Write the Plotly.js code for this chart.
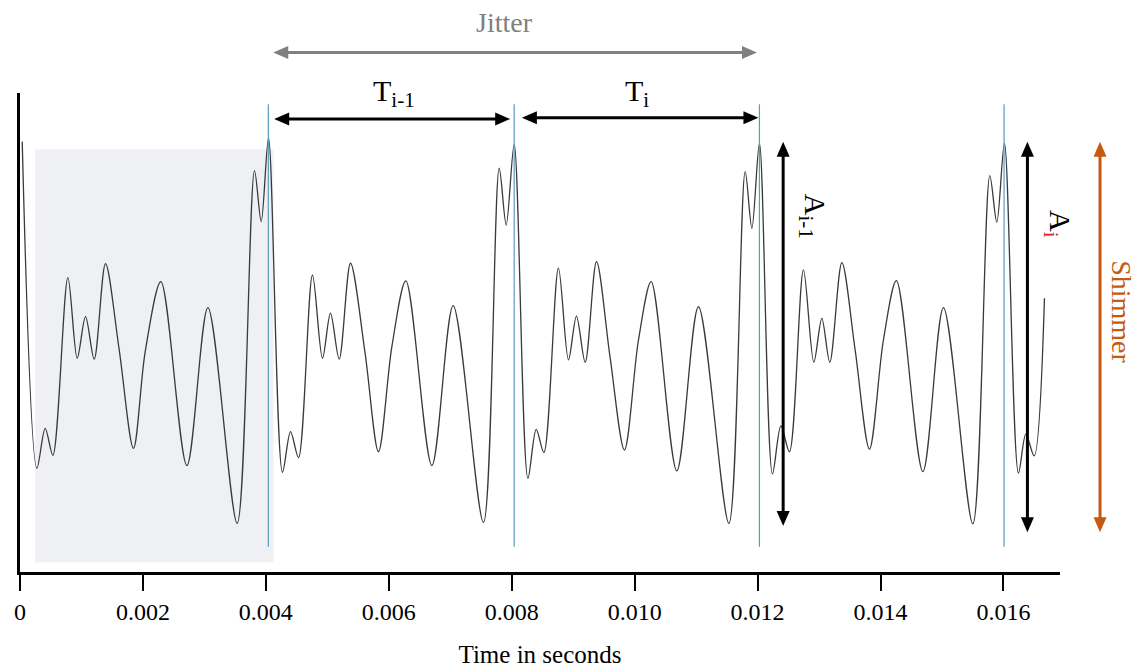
<!DOCTYPE html>
<html>
<head>
<meta charset="utf-8">
<script src="https://cdn.plot.ly/plotly-3.0.1.min.js"></script>
<style>
  html, body { margin: 0; padding: 0; background: #ffffff; }
  #chart { width: 1137px; height: 668px; }
</style>
</head>
<body>
<div id="chart"></div>
<script>
// ---- Data (time in seconds, relative amplitude) ----
const timeSec = [
  0.000036, 0.000275, 0.000410, 0.000535, 0.000779, 0.000931, 0.001066, 0.001207, 0.001391, 0.001614,
  0.001846, 0.002037, 0.002292, 0.002715, 0.003057, 0.003533, 0.003815, 0.003924, 0.004043,
  0.004270, 0.004401, 0.004531, 0.004758, 0.004921, 0.005051, 0.005193, 0.005377, 0.005616,
  0.005832, 0.006050, 0.006278, 0.006701, 0.007047, 0.007540, 0.007796, 0.007910, 0.008040,
  0.008263, 0.008398, 0.008523, 0.008760, 0.008923, 0.009053, 0.009195, 0.009379, 0.009601,
  0.009834, 0.010062, 0.010269, 0.010686, 0.011038, 0.011533, 0.011798, 0.011907, 0.012030,
  0.012242, 0.012379, 0.012518, 0.012746, 0.012915, 0.013045, 0.013175, 0.013371, 0.013587,
  0.013820, 0.014047, 0.014259, 0.014689, 0.015024, 0.015502, 0.015778, 0.015892, 0.016016,
  0.016244, 0.016364, 0.016499, 0.016667
];
const amplitude = [
  1.007, -0.712, -0.502, -0.644, 0.291, -0.133, 0.086, -0.138, 0.365, -0.089,
  -0.607, -0.098, 0.270, -0.698, 0.133, -1.002, 0.854, 0.586, 1.025,
  -0.733, -0.519, -0.656, 0.305, -0.133, 0.104, -0.138, 0.367, -0.110,
  -0.625, -0.072, 0.274, -0.698, 0.144, -0.998, 0.867, 0.568, 0.993,
  -0.765, -0.507, -0.630, 0.341, -0.142, 0.089, -0.154, 0.375, -0.130,
  -0.616, -0.037, 0.270, -0.726, 0.138, -1.002, 0.849, 0.551, 0.998,
  -0.742, -0.489, -0.625, 0.332, -0.154, 0.077, -0.154, 0.370, -0.089,
  -0.611, -0.037, 0.275, -0.730, 0.133, -1.005, 0.828, 0.583, 0.998,
  -0.738, -0.532, -0.647, 0.183
];
// Glottal period markers (blue vertical lines)
const periodMarks = [0.00404, 0.00804, 0.01203, 0.01601];
// Tick values and labels
const tickValues = [0, 0.002, 0.004, 0.006, 0.008, 0.010, 0.012, 0.014, 0.016];
const tickLabels = ['0', '0.002', '0.004', '0.006', '0.008', '0.010', '0.012', '0.014', '0.016'];

const SERIF = 'Liberation Serif';
const ORANGE = '#c55a11';

// layout geometry
const W = 1137, H = 668, M = { l: 20, r: 77, t: 93, b: 96 };
const XR = [0, 0.01692], YR = [-1.258, 1.263];
const pxX = (XR[1] - XR[0]) / (W - M.l - M.r);   // data units per pixel (x)
const pxY = (YR[1] - YR[0]) / (H - M.t - M.b);   // data units per pixel (y)
const pxPaperX = 1 / (W - M.l - M.r);
const pxPaperY = 1 / (H - M.t - M.b);

const trace = {
  x: timeSec,
  y: amplitude,
  type: 'scatter',
  mode: 'lines',
  line: { color: '#3a3a3a', width: 1.3, shape: 'spline', smoothing: 0.9 },
  hoverinfo: 'skip',
  showlegend: false
};

const shapes = [
  { type: 'rect', xref: 'x', yref: 'y', x0: 0.000247, x1: 0.004124, y0: -1.207, y1: 0.967,
    fillcolor: '#eef0f4', line: { width: 0 }, layer: 'below' }
].concat(periodMarks.map(t => ({
  type: 'line', xref: 'x', yref: 'y', x0: t, x1: t, y0: -1.125, y1: 1.204,
  line: { color: '#5a9bc0', width: 1.2 }, layer: 'above'
})));

const HL = 15, HW = 6.5, BACK = 11;
function head(xref, yref, xa, ya, dir, color) {
  const paths = {
    right: `M0,0 L-${HL},${HW} L-${HL},-${HW} Z`,
    left: `M0,0 L${HL},${HW} L${HL},-${HW} Z`,
    up: `M0,0 L-${HW},-${HL} L${HW},-${HL} Z`,
    down: `M0,0 L-${HW},${HL} L${HW},${HL} Z`
  };
  return { type: 'path', xref: xref, yref: yref, xsizemode: 'pixel', ysizemode: 'pixel',
    xanchor: xa, yanchor: ya, path: paths[dir], fillcolor: color, line: { width: 0 }, layer: 'above' };
}
function hArrow(x0, x1, yv, yref, color) {
  const d = BACK * pxX;
  shapes.push({ type: 'line', xref: 'x', yref: yref, x0: x0 + d, x1: x1 - d, y0: yv, y1: yv,
    line: { color: color, width: 3 }, layer: 'above' });
  shapes.push(head('x', yref, x1, yv, 'right', color));
  shapes.push(head('x', yref, x0, yv, 'left', color));
}
function vArrow(xv, xref, yLow, yHigh, color) {
  const d = BACK * pxY;
  shapes.push({ type: 'line', xref: xref, yref: 'y', x0: xv, x1: xv, y0: yLow + d, y1: yHigh - d,
    line: { color: color, width: 3 }, layer: 'above' });
  shapes.push(head(xref, 'y', xv, yHigh, 'up', color));
  shapes.push(head(xref, 'y', xv, yLow, 'down', color));
}

hArrow(0.00412, 0.01199, 1.0843, 'paper', '#808080');
hArrow(0.004135, 0.007975, 1.126, 'y', '#000000');
hArrow(0.008165, 0.012014, 1.133, 'y', '#000000');
vArrow(0.012416, 'x', -1.016, 1.007, '#000000');
vArrow(0.01639, 'x', -1.049, 1.007, '#000000');
vArrow(1.0385, 'paper', -1.049, 1.007, ORANGE);

const annotations = [
  { x: 0.007877, y: 1.148, xref: 'x', yref: 'paper', text: 'Jitter', showarrow: false,
    font: { family: SERIF, size: 28, color: '#808080' }, xanchor: 'center', yanchor: 'middle' },
  { x: 0.006088, y: 1.0, xref: 'x', yref: 'paper', text: 'T<sub>i-1</sub>', showarrow: false,
    font: { family: SERIF, size: 30, color: '#000000' }, xanchor: 'center', yanchor: 'middle' },
  { x: 0.01004, y: 1.0, xref: 'x', yref: 'paper', text: 'T<sub>i</sub>', showarrow: false,
    font: { family: SERIF, size: 30, color: '#000000' }, xanchor: 'center', yanchor: 'middle' },
  { x: 0.012904, y: 0.616, xref: 'x', yref: 'y', text: 'A<sub>i-1</sub>', showarrow: false, textangle: 90,
    font: { family: SERIF, size: 30, color: '#000000' }, xanchor: 'center', yanchor: 'middle' },
  { x: 0.998, y: 0.574, xref: 'paper', yref: 'y', text: 'A<sub><span style="color:#e02020">i</span></sub>', showarrow: false, textangle: 90,
    font: { family: SERIF, size: 30, color: '#000000' }, xanchor: 'center', yanchor: 'middle' },
  { x: 1.0595, y: 0.11, xref: 'paper', yref: 'y', text: 'Shimmer', showarrow: false, textangle: 90,
    font: { family: SERIF, size: 28, color: ORANGE }, xanchor: 'center', yanchor: 'middle' }
];

const layout = {
  width: W, height: H,
  margin: { l: M.l, r: M.r, t: M.t, b: M.b, pad: 0 },
  paper_bgcolor: '#ffffff', plot_bgcolor: '#ffffff',
  showlegend: false,
  font: { family: SERIF, color: '#000000' },
  xaxis: {
    range: XR, showgrid: false, zeroline: false,
    showline: true, linecolor: '#000000', linewidth: 3,
    ticks: 'outside', ticklen: 16, tickwidth: 2, tickcolor: '#000000',
    tickvals: tickValues, ticktext: tickLabels,
    tickfont: { family: SERIF, size: 24, color: '#000000' },
    title: { text: 'Time in seconds', font: { family: SERIF, size: 25, color: '#000000' }, standoff: 30 },
    automargin: false
  },
  yaxis: {
    range: YR, showgrid: false, zeroline: false,
    showline: true, linecolor: '#000000', linewidth: 3,
    showticklabels: false, ticks: '', automargin: false
  },
  shapes: shapes,
  annotations: annotations
};

Plotly.newPlot('chart', [trace], layout, { displayModeBar: false, staticPlot: true });
</script>
</body>
</html>
